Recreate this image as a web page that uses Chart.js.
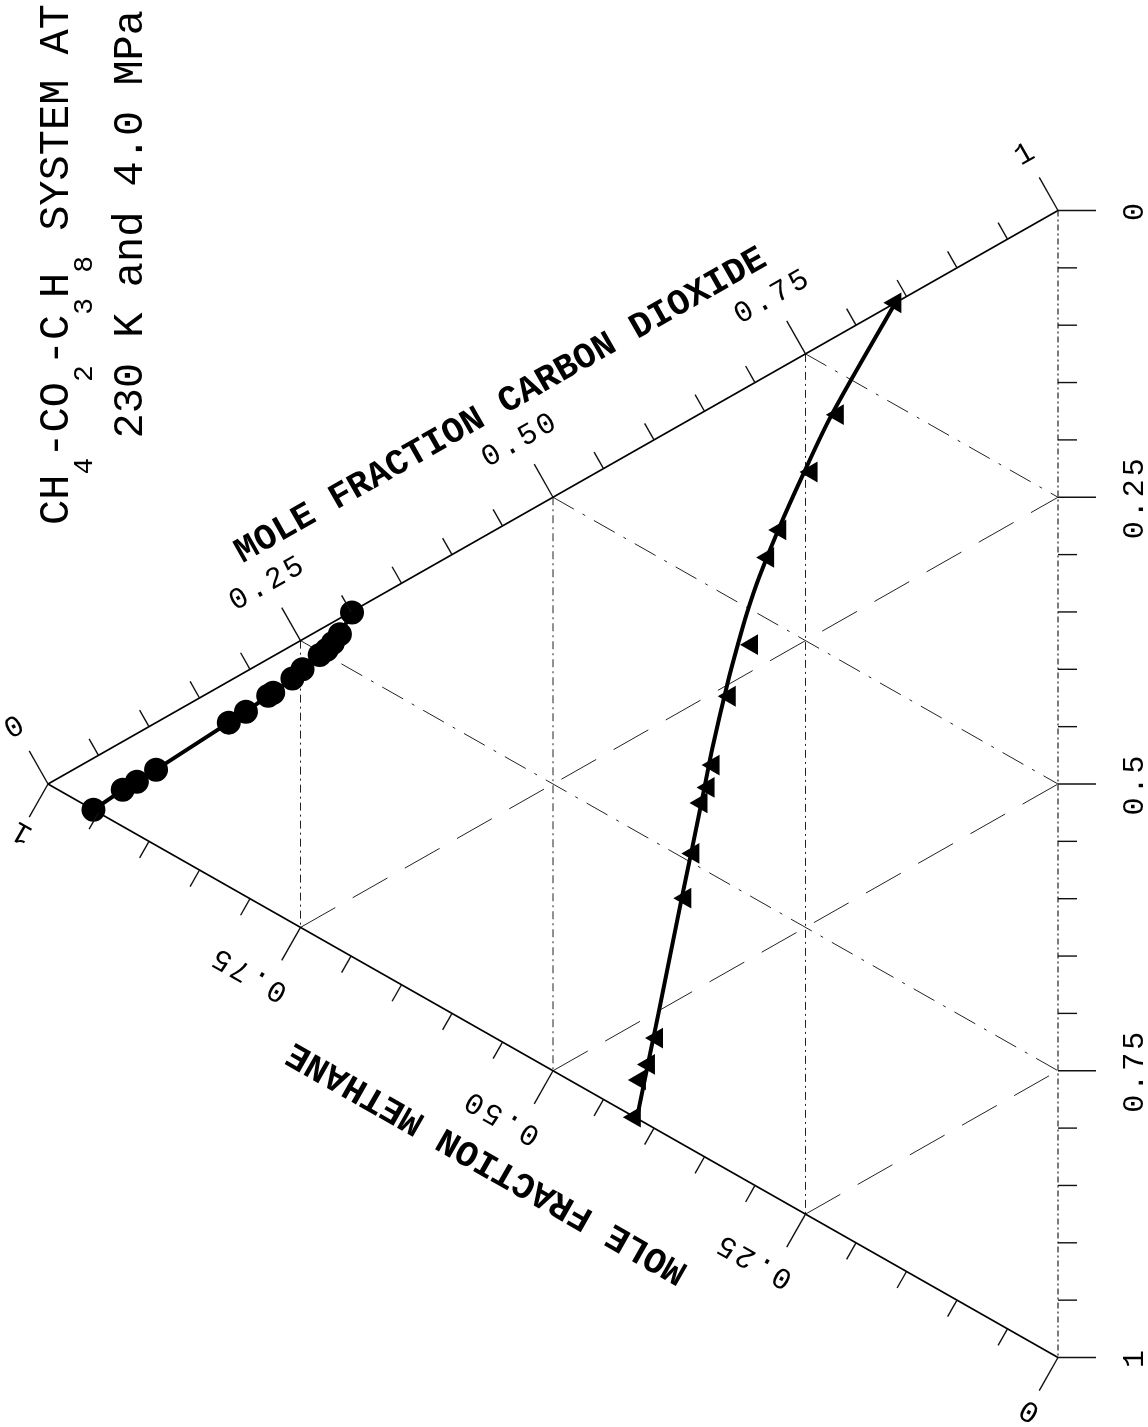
<!DOCTYPE html>
<html>
<head>
<meta charset="utf-8">
<script src="https://cdn.jsdelivr.net/npm/chart.js@4.4.0/dist/chart.umd.min.js"></script>
<style>
  html, body { margin: 0; padding: 0; background: #fff; }
  #wrap { width: 1148px; height: 1427px; }
</style>
</head>
<body>
<div id="wrap"><canvas id="chart"></canvas></div>
<script>
// vapour phase (circles): mole fractions
const vapourCO2 = [0.000, 0.032, 0.046, 0.066, 0.143, 0.161, 0.186, 0.191, 0.213, 0.226, 0.247, 0.255, 0.264, 0.275, 0.300];
const vapourCH4 = [0.955, 0.926, 0.912, 0.893, 0.821, 0.804, 0.782, 0.777, 0.758, 0.748, 0.731, 0.724, 0.718, 0.711, 0.699];
// liquid phase (triangles)
const liquidCO2 = [0.839, 0.713, 0.650, 0.584, 0.554, 0.470, 0.414, 0.346, 0.324, 0.307, 0.259, 0.216, 0.080, 0.053, 0.035, 0.000];
const liquidCH4 = [0.161, 0.218, 0.244, 0.275, 0.287, 0.303, 0.325, 0.341, 0.346, 0.353, 0.361, 0.369, 0.397, 0.405, 0.414, 0.419];
// smooth curve drawn through the liquid points
const curveCO2 = [0.839, 0.710, 0.647, 0.583, 0.532, 0.495, 0.463, 0.425, 0.361, 0.322, 0.264, 0.212, 0.105, 0.067, 0.000];
const curveCH4 = [0.161, 0.224, 0.251, 0.277, 0.296, 0.308, 0.317, 0.327, 0.342, 0.350, 0.362, 0.373, 0.395, 0.403, 0.417];

const gridFractions = [0.25, 0.5, 0.75];
const co2Labels = ['0', '0.25', '0.50', '0.75', '1'];
const ch4Labels = ['1', '0.75', '0.50', '0.25', '0'];
const c3h8Labels = ['0', '0.25', '0.5', '0.75', '1'];

// ternary (CO2, CH4) -> plain x/y, C3H8 is the rest
function tern(co2, ch4) {
    return { x: 1 - ch4, y: 2 * co2 + ch4 - 1 };
}
function series(co2, ch4) {
    return co2.map(function (c, i) { return tern(c, ch4[i]); });
}

let datasets = [];
function gridLine(p, q, dash) {
    datasets.push({
        data: [p, q], showLine: true, pointRadius: 0, borderWidth: 1,
        borderColor: '#222', borderDash: dash, order: 10
    });
}
gridFractions.forEach(function (f) {
    gridLine(tern(0, 1 - f), tern(1 - f, 0), [40, 20]);          // constant propane
    gridLine(tern(f, 1 - f), tern(f, 0), [24, 10, 3, 10]);        // constant CO2
    gridLine(tern(1 - f, f), tern(0, f), [8, 4, 2, 4]);           // constant methane
});
// triangle edges
datasets.push({ data: [tern(0, 1), tern(1, 0)], showLine: true, pointRadius: 0, borderWidth: 1.6, borderColor: '#000', order: 9 });
datasets.push({ data: [tern(0, 1), tern(0, 0)], showLine: true, pointRadius: 0, borderWidth: 1.6, borderColor: '#000', order: 9 });
datasets.push({ data: [tern(1, 0), tern(0, 0)], showLine: true, pointRadius: 0, borderWidth: 1.2, borderColor: '#222', borderDash: [6, 3, 2, 3], order: 9 });

datasets.push({
    label: 'liquid curve', data: series(curveCO2, curveCH4), showLine: true, tension: 0.3,
    pointRadius: 0, borderWidth: 4, borderColor: '#000', order: 2
});
datasets.push({
    label: 'liquid', data: series(liquidCO2, liquidCH4), showLine: false,
    pointStyle: 'triangle', pointRotation: -90, pointRadius: 12,
    backgroundColor: '#000', borderColor: '#000', borderWidth: 0, order: 1
});
datasets.push({
    label: 'vapour', data: series(vapourCO2, vapourCH4), showLine: true, tension: 0,
    pointStyle: 'circle', pointRadius: 10, borderWidth: 4,
    backgroundColor: '#000', borderColor: '#000', order: 1
});

const numFont = '30px "Liberation Mono"';
const axisFont = 'bold 36px "Liberation Mono"';

const ternaryFrame = {
    id: 'ternaryFrame',
    afterDatasetsDraw: function (chart) {
        const ctx = chart.ctx;
        const sx = chart.scales.x, sy = chart.scales.y;
        const pix = function (co2, ch4) {
            const p = tern(co2, ch4);
            return [sx.getPixelForValue(p.x), sy.getPixelForValue(p.y)];
        };
        const unit = function (p, q) {
            const dx = q[0] - p[0], dy = q[1] - p[1], l = Math.hypot(dx, dy);
            return [dx / l, dy / l];
        };
        const A = pix(0, 1), B = pix(1, 0), C = pix(0, 0);
        const dAB = unit(A, B), dAC = unit(A, C);
        const nAB = [dAB[1], -dAB[0]];
        const nAC = [-dAC[1], dAC[0]];
        const nBC = [1, 0];
        const angAB = Math.atan2(dAB[1], dAB[0]);
        const angAC = Math.atan2(dAC[1], dAC[0]) + Math.PI;

        ctx.save();
        ctx.strokeStyle = '#111';
        ctx.lineWidth = 1.4;
        function tick(p, n, len) {
            ctx.beginPath();
            ctx.moveTo(p[0], p[1]);
            ctx.lineTo(p[0] + n[0] * len, p[1] + n[1] * len);
            ctx.stroke();
        }
        for (let i = 0; i <= 20; i++) {
            const f = i / 20, len = i % 5 === 0 ? 38 : 19;
            tick(pix(f, 1 - f), nAB, len);
            tick(pix(0, 1 - f), nAC, len);
            tick(pix(1 - f, 0), nBC, len);
        }

        function text(str, x, y, ang, font, spacing) {
            ctx.save();
            ctx.translate(x, y);
            ctx.rotate(ang);
            ctx.font = font;
            ctx.letterSpacing = spacing || '0px';
            ctx.textAlign = 'center';
            ctx.textBaseline = 'middle';
            ctx.fillStyle = '#000';
            ctx.fillText(str, 0, 0);
            ctx.restore();
        }

        for (let i = 0; i <= 4; i++) {
            const f = i / 4;
            // carbon dioxide along A-B
            let p = pix(f, 1 - f);
            let off = (i === 0 || i === 4) ? 65 : 66;
            text(co2Labels[i], p[0] + nAB[0] * off, p[1] + nAB[1] * off, angAB, numFont, '3px');
            // methane along A-C
            p = pix(0, 1 - f);
            if (i === 0 || i === 4) {
                off = i === 0 ? 55 : 60;
                text(ch4Labels[i], p[0] + nAC[0] * off, p[1] + nAC[1] * off, angAC, numFont, '3px');
            } else {
                text(ch4Labels[i], p[0] + nAC[0] * 66 - dAC[0] * 22, p[1] + nAC[1] * 66 - dAC[1] * 22, angAC, numFont, '3px');
            }
            // propane along B-C
            p = pix(1 - f, 0);
            text(c3h8Labels[i], p[0] + 77, p[1], -Math.PI / 2, numFont, '3px');
        }

        const mAB = [(A[0] + B[0]) / 2, (A[1] + B[1]) / 2];
        const mAC = [(A[0] + C[0]) / 2, (A[1] + C[1]) / 2];
        text('MOLE FRACTION CARBON DIOXIDE', mAB[0] + nAB[0] * 105, mAB[1] + nAB[1] * 105, angAB, axisFont);
        text('MOLE FRACTION METHANE', mAC[0] + nAC[0] * 112 - dAC[0] * 12, mAC[1] + nAC[1] * 112 - dAC[1] * 12, angAC, axisFont);

        // title, written bottom-to-top with subscripts
        const big = '42px "Liberation Mono"', small = '28px "Liberation Mono"';
        const pieces = [['CH', 0], ['4', 1], ['-CO', 0], ['2', 1], ['-C', 0], ['3', 1], ['H', 0], ['8', 1], [' SYSTEM AT', 0]];
        ctx.fillStyle = '#000';
        ctx.textAlign = 'left';
        ctx.textBaseline = 'alphabetic';
        let total = 0;
        pieces.forEach(function (pc) {
            ctx.font = pc[1] ? small : big;
            total += ctx.measureText(pc[0]).width;
        });
        ctx.save();
        ctx.translate(68, 4 + total);
        ctx.rotate(-Math.PI / 2);
        let cx = 0;
        pieces.forEach(function (pc) {
            ctx.font = pc[1] ? small : big;
            ctx.fillText(pc[0], cx, pc[1] ? 24 : 0);
            cx += ctx.measureText(pc[0]).width;
        });
        ctx.restore();
        ctx.save();
        ctx.font = big;
        const line2 = '230 K and 4.0 MPa';
        ctx.translate(142, 10 + ctx.measureText(line2).width);
        ctx.rotate(-Math.PI / 2);
        ctx.fillText(line2, 0, 0);
        ctx.restore();
        ctx.restore();
    }
};

new Chart(document.getElementById('chart'), {
    type: 'scatter',
    data: { datasets: datasets },
    options: {
        responsive: true,
        maintainAspectRatio: false,
        animation: false,
        layout: { padding: 0, autoPadding: false },
        plugins: { legend: { display: false }, tooltip: { enabled: false } },
        scales: {
            x: { type: 'linear', display: false, min: -48 / 1010, max: 1100 / 1010 },
            y: { type: 'linear', display: false, min: -643 / 573.5, max: 784 / 573.5 }
        }
    },
    plugins: [ternaryFrame]
});
</script>
</body>
</html>
